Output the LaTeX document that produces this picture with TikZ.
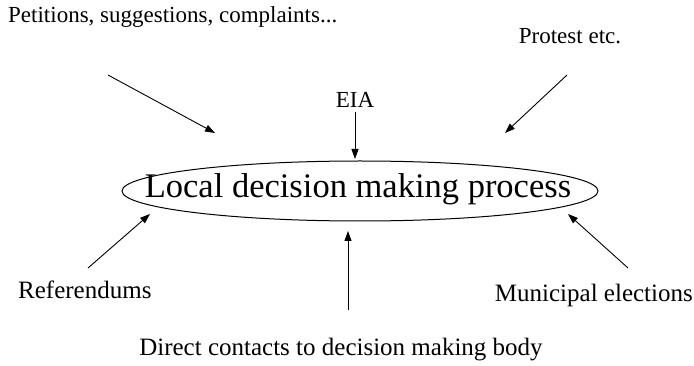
\documentclass[tikz,border=0pt]{standalone}
\usepackage{fontspec}
\setmainfont{Liberation Serif}
\usetikzlibrary{arrows.meta,shapes.geometric}
\begin{document}
\begin{tikzpicture}[x=1pt,y=-1pt,
  lbl/.style={inner sep=0pt,font=\fontsize{23}{27}\selectfont},
  lblb/.style={inner sep=0pt,font=\fontsize{25}{29}\selectfont},
  arr/.style={line width=0.9pt,-{Triangle[length=10pt,width=7pt]}}]
\useasboundingbox (0,0) rectangle (694,366);
\node[draw,ellipse,line width=1pt,minimum width=476pt,minimum height=60pt,inner sep=0pt] (proc) at (360,191) {};
\node[inner sep=0pt,font=\fontsize{34.5}{40}\selectfont] (proctxt) at (358,189) {Local decision making process};
\node[lbl,anchor=west] (pet) at (8,17) {Petitions, suggestions, complaints...};
\node[lbl] (prot) at (570,36) {Protest etc.};
\node[lbl] (eia) at (355,100) {EIA};
\node[lblb,anchor=west] (ref) at (18,290) {Referendums};
\node[lblb,anchor=east] (mun) at (693,295) {Municipal elections};
\node[lblb] (dir) at (341,350) {Direct contacts to decision making body};
\coordinate (petS) at (108,75);  \coordinate (petE) at (215,133);
\coordinate (protS) at (567,75); \coordinate (protE) at (505,133);
\coordinate (eiaS) at (355,112); \coordinate (eiaE) at (355,159);
\coordinate (refS) at (88,268);  \coordinate (refE) at (150,214);
\coordinate (munS) at (628,268); \coordinate (munE) at (568,214);
\coordinate (dirS) at (348,310); \coordinate (dirE) at (348,231);
\draw[arr] (petS) -- (petE);
\draw[arr] (protS) -- (protE);
\draw[arr] (eiaS) -- (eiaE);
\draw[arr] (refS) -- (refE);
\draw[arr] (munS) -- (munE);
\draw[arr] (dirS) -- (dirE);
\end{tikzpicture}
\end{document}
